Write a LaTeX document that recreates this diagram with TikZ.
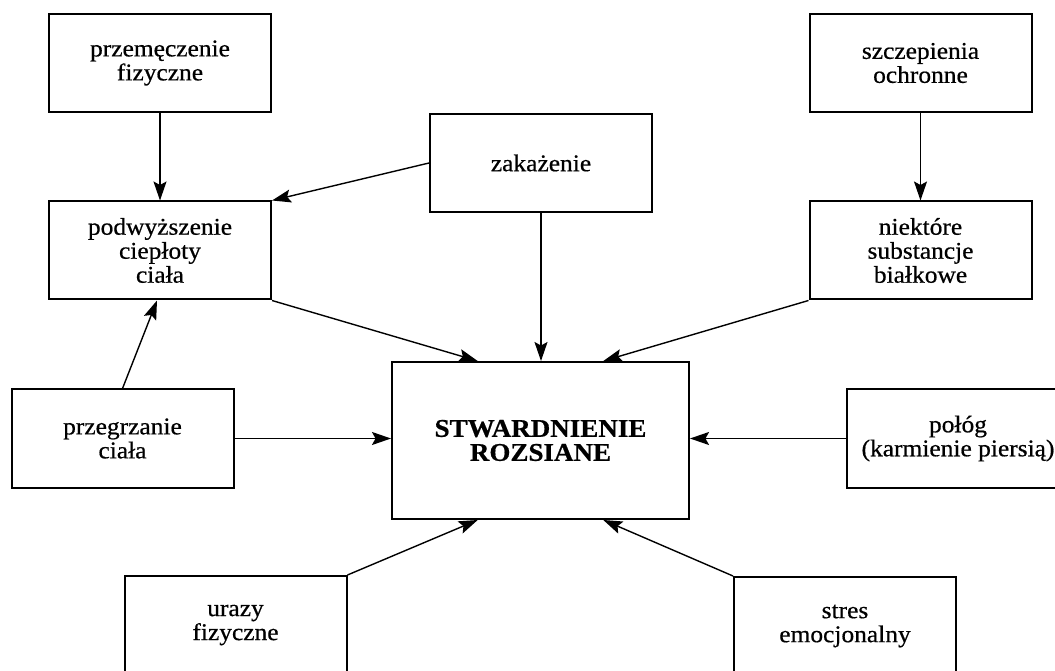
\documentclass[tikz,border=0pt]{standalone}
\usepackage{fontspec}
\setmainfont{Liberation Serif}[FakeStretch=1.06,FakeBold=0.6]
\usepackage{tikz}
\usetikzlibrary{positioning,calc,arrows.meta}

\begin{document}
\begin{tikzpicture}[x=1pt,y=1pt,font=\fontsize{24}{24}\selectfont,
  box/.style={draw,line width=2pt,minimum width=222,minimum height=98,align=center,inner sep=0pt},
  arr/.style={line width=1.4pt,-{Stealth[length=19pt,width=13pt,inset=3.5pt]}}]
      \useasboundingbox (0,0) rectangle (1055,670); \clip (0,0) rectangle (1055,670);
      \node[box] (przem) at (160,607) {przemęczenie\\fizyczne};
      \node[box] (szczep) at (920.5,607) {szczepienia\\ochronne};
      \node[box] (zakaz) at (541,507) {zakażenie};
      \node[box] (podw) at (160,419.5) {podwyższenie\\ciepłoty\\ciała};
      \node[box] (bialka) at (920.5,419.5) {niektóre\\substancje\\białkowe};
      \node[box] (przegrz) at (122.5,231.5) {przegrzanie\\ciała};
      \node[box,minimum width=297,minimum height=157,font=\fontsize{25.5}{24}\selectfont\bfseries] (sm) at (540.5,229.5) {STWARDNIENIE\\ROZSIANE};
      \node[box] (polog) at (958,231.5) {połóg\\(karmienie piersią)};
      \node[box] (urazy) at (235.5,45) {urazy\\fizyczne};
      \node[box] (stres) at (845,44) {stres\\emocjonalny};
      \draw[arr] (przem.south) -- (podw.north); \draw[arr] (szczep.south) -- (bialka.north);
      \draw[arr] (zakaz.west) -- (podw.north east);
      \draw[arr] (zakaz.south) -- (zakaz.south |- sm.north);
      \draw[arr] (podw.south east) -- ($(sm.north west)!.29!(sm.north east)$);
      \draw[arr] (bialka.south west) -- ($(sm.north west)!.71!(sm.north east)$);
      \draw[arr] (przegrz.north) -- ($(podw.south)+(-3,0)$);
      \draw[arr] (przegrz.east) -- (przegrz.east -| sm.west);
      \draw[arr] (polog.west) -- (polog.west -| sm.east);
      \draw[arr] (urazy.north east) -- ($(sm.south west)!.29!(sm.south east)$);
      \draw[arr] (stres.north west) -- ($(sm.south west)!.71!(sm.south east)$);
    \end{tikzpicture}
\end{document}
